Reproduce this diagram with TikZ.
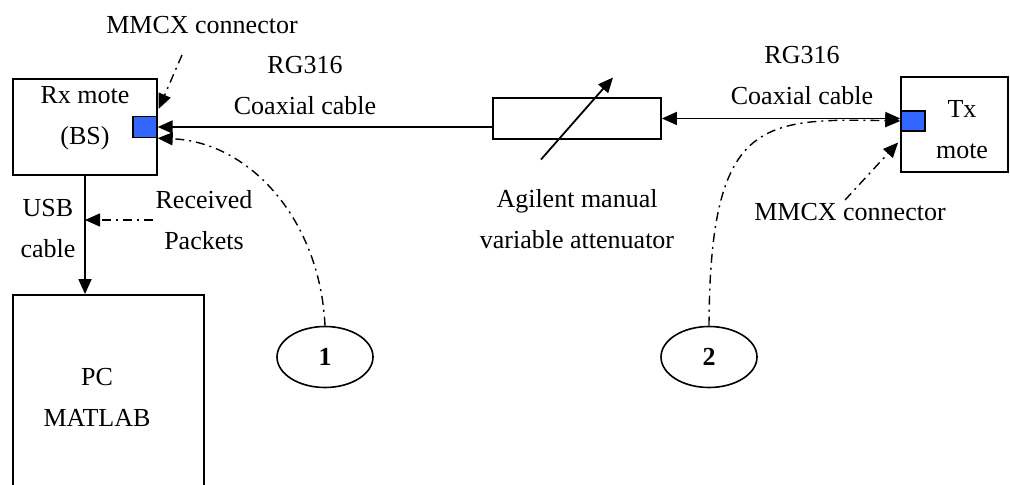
\documentclass[tikz,border=0pt]{standalone}
\usepackage{fontspec}
\setmainfont{Liberation Serif}
\usetikzlibrary{arrows.meta,shapes.geometric,positioning}
\definecolor{portblue}{RGB}{51,102,255}

\begin{document}
\begin{tikzpicture}[x=0.5pt,y=-0.5pt,
    font=\fontsize{13}{20.5}\selectfont,
    box/.style={draw,line width=0.9pt,inner sep=0pt},
    port/.style={draw,fill=portblue,line width=0.7pt,minimum width=12pt,minimum height=10.5pt,inner sep=0pt},
    txt/.style={align=center,inner sep=1pt},
    num/.style={draw,ellipse,line width=0.8pt,minimum width=48pt,minimum height=30.5pt,font=\fontsize{13}{15}\selectfont\bfseries},
    tip/.style={-{Triangle[length=7.5pt,width=6.5pt]}},
    cable/.style={line width=0.9pt},
    hint/.style={line width=0.7pt,dash pattern=on 4.5pt off 2.5pt on 1pt off 2.5pt}]
\useasboundingbox (0,0) rectangle (1010,485);

% boxes and ports
\node[box,minimum width=72pt,minimum height=48pt] (rx) at (85,127) {};
\node[box,minimum width=95.5pt,minimum height=102.5pt] (pc) at (108.5,397.5) {};
\node[box,minimum width=84pt,minimum height=20.5pt] (att) at (577,118.5) {};
\node[box,minimum width=53.5pt,minimum height=47.5pt] (tx) at (954.5,124.5) {};
\node[port] (rxport) at (145,127) {};
\node[port,minimum height=10pt] (txport) at (913,121) {};
\node[num] (c1) at (325,357) {1};
\node[num] (c2) at (709,357) {2};

% texts
\node[txt] (rxtext) at (85,118) {Rx mote\\(BS)};
\node[txt] (pctext) at (97,397) {PC\\MATLAB};
\node[txt] (txtext) at (962,130) {Tx\\mote};
\node[txt] (mmcx1) at (202,25) {MMCX connector};
\node[txt] (mmcx2) at (850,212) {MMCX connector};
\node[txt] (rg1) at (305,86) {RG316\\Coaxial cable};
\node[txt] (rg2) at (802,76) {RG316\\Coaxial cable};
\node[txt] (agilent) at (577,219) {Agilent manual\\variable attenuator};
\node[txt] (usb) at (48,229) {USB\\cable};
\node[txt] (recv) at (204,220) {Received\\Packets};

% cables
\draw[cable,tip] (att.west |- rxport.east) -- (rxport.east);
\draw[cable,{Triangle[length=7.5pt,width=6.5pt]}-{Triangle[length=7.5pt,width=6.5pt]}] (att.east) -- (att.east -| txport.west);
\draw[cable,tip] (rx.south) -- (pc.north -| rx.south);
\draw[cable,tip] ([shift={(-36,41)}]att.center) -- ([shift={(36,-41)}]att.center);

% pointers
\draw[hint,tip] ([shift={(-20,30)}]mmcx1.center) -- ([shift={(1,-7)}]rxport.north east);
\draw[hint,tip] ([shift={(-5,-12)}]mmcx2.center) -- ([shift={(-2,18)}]tx.west);
\draw[hint,tip] (recv.west) -- (recv.west -| rx.south);
\draw[hint,tip] (c1.north) .. controls (320,220) and (250,142) .. (rxport.south east);
\draw[hint,tip] (c2.north) .. controls (710,120) and (760,118) .. (txport.west);
\end{tikzpicture}
\end{document}
